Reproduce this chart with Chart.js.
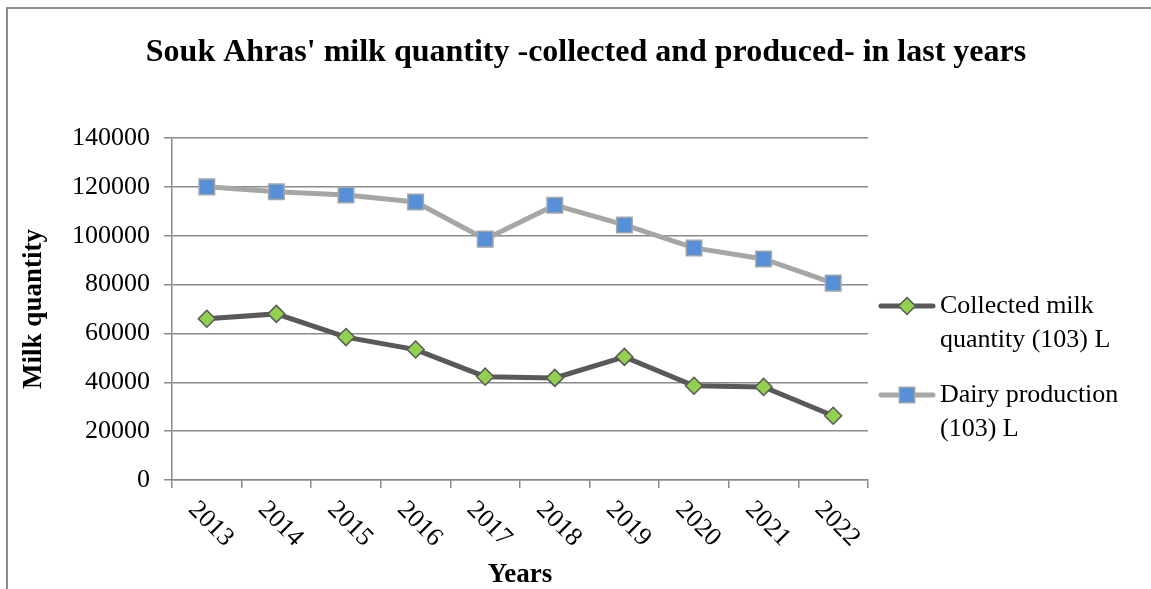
<!DOCTYPE html>
<html>
<head>
<meta charset="utf-8">
<title>Souk Ahras milk quantity</title>
<script src="https://cdn.jsdelivr.net/npm/chart.js@4.4.1/dist/chart.umd.min.js"></script>
<style>
  html, body { margin: 0; padding: 0; background: #ffffff; }
  #wrap { position: relative; width: 1151px; height: 589px; }
</style>
</head>
<body>
<div id="wrap"><canvas id="chart" width="1151" height="589"></canvas></div>
<script>
// Yearly values, thousands of litres
const years = ['2013', '2014', '2015', '2016', '2017', '2018', '2019', '2020', '2021', '2022'];
const collectedMilk = [66000, 68000, 58500, 53400, 42300, 41800, 50400, 38600, 38100, 26300];
const dairyProduction = [120000, 118000, 116700, 113800, 98600, 112500, 104400, 95000, 90500, 80600];
const seriesLabels = [
  ['Collected milk', 'quantity (103) L'],
  ['Dairy production', '(103) L']
];
const chartTitle = "Souk Ahras' milk quantity -collected and produced- in last years";

const SERIF = "'Liberation Serif', 'Times New Roman', serif";
const AXIS_GRAY = '#8a8a8a';

// Thin frame along the top and left edges, plus the heading
const framePlugin = {
  id: 'frame',
  beforeDraw(chart) {
    const ctx = chart.ctx;
    ctx.save();
    ctx.fillStyle = '#ffffff';
    ctx.fillRect(0, 0, chart.width, chart.height);
    ctx.fillStyle = '#8c8c8c';
    ctx.fillRect(6, 7, chart.width - 6, 2);
    ctx.fillRect(6, 7, 2, chart.height - 7);
    ctx.fillStyle = '#000000';
    ctx.font = 'bold 32px ' + SERIF;
    ctx.textAlign = 'center';
    ctx.textBaseline = 'middle';
    ctx.fillText(chartTitle, 586, 53);
    ctx.restore();
  }
};

// Year labels slanted downward to the right under each category
const slantedLabels = {
  id: 'slantedLabels',
  afterDraw(chart) {
    const ctx = chart.ctx;
    const xs = chart.scales.x;
    ctx.save();
    ctx.font = '26px ' + SERIF;
    ctx.fillStyle = '#000000';
    ctx.textAlign = 'left';
    ctx.textBaseline = 'middle';
    const a = Math.PI / 4;
    years.forEach((yr, i) => {
      const cx = xs.getPixelForValue(i);
      const w = ctx.measureText(yr).width;
      const mx = cx + 4, my = xs.top + 44;
      const px = mx - Math.cos(a) * w / 2;
      const py = my - Math.sin(a) * w / 2;
      ctx.save();
      ctx.translate(px, py);
      ctx.rotate(a);
      ctx.fillText(yr, 0, 0);
      ctx.restore();
    });
    ctx.restore();
  }
};

// Legend to the right of the plot, with wrapped series names
const sideLegend = {
  id: 'sideLegend',
  afterDraw(chart) {
    const ctx = chart.ctx;
    const rows = [306, 395];
    ctx.save();
    chart.data.datasets.forEach((ds, i) => {
      const y = rows[i];
      ctx.strokeStyle = ds.borderColor;
      ctx.lineWidth = ds.borderWidth;
      ctx.lineCap = 'round';
      ctx.beginPath();
      ctx.moveTo(881, y);
      ctx.lineTo(933, y);
      ctx.stroke();
      ctx.fillStyle = ds.pointBackgroundColor;
      ctx.strokeStyle = ds.pointBorderColor;
      ctx.lineWidth = ds.pointBorderWidth;
      ctx.beginPath();
      if (ds.pointStyle === 'rectRot') {
        const r = ds.pointRadius;
        ctx.moveTo(907, y - r);
        ctx.lineTo(907 + r, y);
        ctx.lineTo(907, y + r);
        ctx.lineTo(907 - r, y);
        ctx.closePath();
      } else {
        const s = ds.pointRadius * Math.SQRT1_2;
        ctx.rect(907 - s, y - s, 2 * s, 2 * s);
      }
      ctx.fill();
      ctx.stroke();
      ctx.fillStyle = '#000000';
      ctx.font = '26px ' + SERIF;
      ctx.textAlign = 'left';
      ctx.textBaseline = 'middle';
      seriesLabels[i].forEach((line, k) => ctx.fillText(line, 940, y + k * 34));
    });
    ctx.restore();
  }
};

new Chart(document.getElementById('chart'), {
  type: 'line',
  data: {
    labels: years,
    datasets: [
      {
        label: seriesLabels[0].join(' '),
        data: collectedMilk,
        borderColor: '#595959',
        borderWidth: 5,
        pointStyle: 'rectRot',
        pointRadius: 8.5,
        pointBackgroundColor: '#92d050',
        pointBorderColor: '#595959',
        pointBorderWidth: 1.5,
        tension: 0
      },
      {
        label: seriesLabels[1].join(' '),
        data: dairyProduction,
        borderColor: '#a6a6a6',
        borderWidth: 5,
        pointStyle: 'rect',
        pointRadius: 11,
        pointBackgroundColor: '#5590d8',
        pointBorderColor: '#a6a6a6',
        pointBorderWidth: 1.5,
        tension: 0
      }
    ]
  },
  options: {
    responsive: false,
    animation: false,
    devicePixelRatio: 1,
    layout: { padding: { left: 20, right: 283, top: 138, bottom: 0 } },
    plugins: {
      legend: { display: false },
      tooltip: { enabled: false },
      title: { display: false }
    },
    scales: {
      x: {
        type: 'category',
        offset: true,
        grid: { offset: true, drawOnChartArea: false, drawTicks: true, tickLength: 8, color: AXIS_GRAY, lineWidth: 1.5 },
        border: { color: AXIS_GRAY, width: 1.5 },
        ticks: { display: false },
        title: {
          display: true,
          text: 'Years',
          color: '#000000',
          font: { family: SERIF, size: 27, weight: 'bold', lineHeight: 1 },
          padding: { top: 0, bottom: 0 }
        },
        afterFit(scale) { scale.height = 109; }
      },
      y: {
        min: 0,
        max: 140000,
        ticks: {
          stepSize: 20000,
          color: '#000000',
          padding: 14,
          font: { family: SERIF, size: 26 },
          callback: (v) => String(v)
        },
        grid: { color: AXIS_GRAY, lineWidth: 1.5, drawTicks: true, tickLength: 8 },
        border: { color: AXIS_GRAY, width: 1.5 },
        title: {
          display: true,
          text: 'Milk quantity',
          color: '#000000',
          font: { family: SERIF, size: 27, weight: 'bold', lineHeight: 1 },
          padding: { top: 0.5, bottom: 0 }
        },
        afterFit(scale) { scale.width = 152; }
      }
    }
  },
  plugins: [framePlugin, slantedLabels, sideLegend]
});
</script>
</body>
</html>
